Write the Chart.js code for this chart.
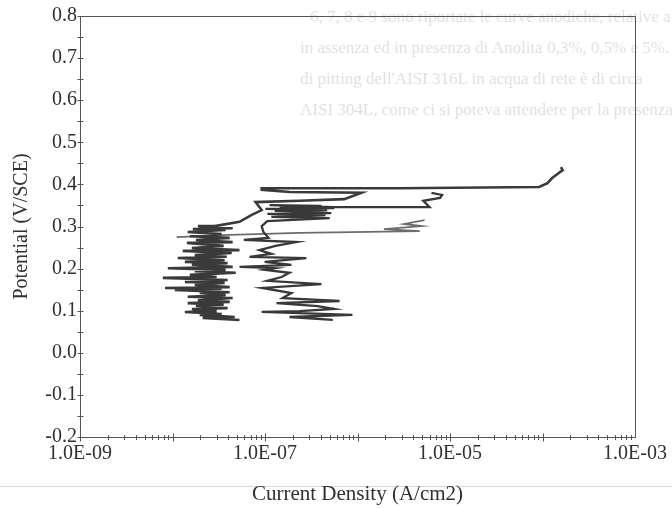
<!DOCTYPE html>
<html>
<head>
<meta charset="utf-8">
<title>Curve anodiche</title>
<script src="https://cdn.jsdelivr.net/npm/chart.js@4.4.1/dist/chart.umd.min.js"></script>
<style>
  html, body { margin: 0; padding: 0; background: #fff; }
  #pagina { position: relative; width: 672px; height: 508px; overflow: hidden; }
  .traspare { position: absolute; font-family: "Liberation Serif", serif; font-size: 17px;
              color: #000; opacity: .12; white-space: nowrap; }
  #riga { position: absolute; left: 0; top: 486px; width: 672px; height: 1px; background: #dadada; }
  canvas { position: absolute; left: 0; top: 0; }
</style>
</head>
<body>
<div id="pagina">
  <div class="traspare" style="left:310px;top:7px">6, 7, 8 e 9 sono riportate le curve anodiche, relative al</div>
  <div class="traspare" style="left:300px;top:38px">in assenza ed in presenza di Anolita 0,3%, 0,5% e 5%.</div>
  <div class="traspare" style="left:300px;top:69px">di pitting dell'AISI 316L in acqua di rete è di circa</div>
  <div class="traspare" style="left:300px;top:100px">AISI 304L, come ci si poteva attendere per la presenza</div>
  <div id="riga"></div>
  <canvas id="curve_anodiche" width="672" height="508"></canvas>
</div>
<script>
// first scan: low-current cluster, then the jump at the pitting potential
let currentA = [5.3e-8, 2.12e-8, 4.7e-8, 1.97e-8, 3.4e-8, 1.36e-8, 3.0e-8, 1.62e-8, 3.94e-8, 1.79e-8,
    3.57e-8, 1.46e-8, 4.15e-8, 1.88e-8, 4.47e-8, 1.46e-8, 3.75e-8, 1.97e-8, 4.15e-8, 1.06e-8,
    3.4e-8, 8.3e-9, 4.15e-8, 1.74e-8, 3.66e-8, 1.36e-8, 3.94e-8, 7.85e-9, 3.0e-8, 1.54e-8,
    4.82e-8, 1.74e-8, 3.75e-8, 8.9e-9, 4.47e-8, 1.62e-8, 3.94e-8, 1.36e-8, 3.66e-8, 1.14e-8,
    3.85e-8, 1.74e-8, 4.36e-8, 1.29e-8, 5.3e-8, 1.62e-8, 3.57e-8, 1.43e-8, 4.47e-8, 1.79e-8,
    4.15e-8, 1.54e-8, 3.4e-8, 1.46e-8, 3.75e-8, 1.66e-8, 4.47e-8, 1.88e-8, 2.86e-8, 5.3e-8,
    7.1e-8, 9.2e-8, 7.9e-8, 2.36e-7, 7.2e-7, 1.10e-6, 1.84e-7, 9.2e-8, 9.2e-8, 2.8e-6,
    9.2e-5, 1.13e-4, 1.27e-4, 1.5e-4, 1.65e-4, 1.58e-4];
let potentialA = [0.078, 0.083, 0.085, 0.090, 0.092, 0.097, 0.099, 0.104, 0.106, 0.111,
    0.114, 0.118, 0.121, 0.125, 0.130, 0.133, 0.137, 0.142, 0.144, 0.149,
    0.152, 0.154, 0.156, 0.161, 0.166, 0.168, 0.173, 0.178, 0.180, 0.185,
    0.190, 0.194, 0.197, 0.201, 0.204, 0.209, 0.213, 0.216, 0.220, 0.225,
    0.228, 0.232, 0.237, 0.242, 0.244, 0.249, 0.254, 0.261, 0.263, 0.268,
    0.273, 0.277, 0.282, 0.287, 0.292, 0.294, 0.296, 0.301, 0.301, 0.311,
    0.327, 0.339, 0.358, 0.361, 0.365, 0.380, 0.382, 0.387, 0.391, 0.391,
    0.394, 0.403, 0.415, 0.427, 0.434, 0.441];

// second scan, around 1E-07
let currentB = [5.4e-7, 1.84e-7, 8.8e-7, 9.2e-8, 2.36e-7, 5.6e-7, 3.7e-7, 1.33e-7, 6.4e-7, 1.55e-7,
    1.93e-7, 9.4e-8, 4.07e-7, 1.06e-7, 1.51e-7, 1.84e-7, 9.9e-8, 1.27e-7, 5.3e-8, 1.93e-7,
    9.9e-8, 2.8e-7, 6.8e-8, 1.17e-7, 8.7e-8, 1.30e-7, 2.18e-7, 5.9e-8, 1.09e-7, 9.6e-8,
    9.2e-8, 1.06e-7, 5.0e-7, 1.17e-7, 4.5e-7, 1.06e-7, 5.2e-7, 1.27e-7, 4.7e-7, 1.01e-7,
    5.6e-7, 1.44e-7, 4.07e-7, 1.12e-7, 5.4e-7, 6.0e-6, 5.14e-6, 7.8e-6, 8.2e-6, 6.3e-6];
let potentialB = [0.078, 0.085, 0.090, 0.097, 0.099, 0.104, 0.111, 0.118, 0.123, 0.130,
    0.142, 0.154, 0.163, 0.171, 0.180, 0.190, 0.197, 0.201, 0.204, 0.209,
    0.216, 0.225, 0.228, 0.235, 0.244, 0.254, 0.263, 0.268, 0.273, 0.287,
    0.301, 0.313, 0.320, 0.323, 0.327, 0.330, 0.332, 0.337, 0.339, 0.342,
    0.344, 0.346, 0.349, 0.351, 0.346, 0.346, 0.361, 0.368, 0.375, 0.380];

// return branch near 0.28 V
let currentC = [5.3e-6, 3.2e-6, 4.9e-6, 1.93e-6, 4.7e-6, 2.36e-7, 4.15e-8, 1.11e-8];
let potentialC = [0.315, 0.306, 0.301, 0.294, 0.289, 0.285, 0.280, 0.275];

let currentTicks = [1e-9, 1e-7, 1e-5, 1e-3];
let currentTickLabels = ["1.0E-09", "1.0E-07", "1.0E-05", "1.0E-03"];

function toPoints(xs, ys) {
    return xs.map((x, i) => ({x: x, y: ys[i]}));
}

let serif = "'Liberation Serif', 'Times New Roman', serif";
let ink = "#303030";

// box on top/right plus the small ticks crossing both axes
let frameAndTicks = {
    id: "frameAndTicks",
    afterDraw(chart) {
        let ctx = chart.ctx;
        let a = chart.chartArea;
        let x = chart.scales.x, y = chart.scales.y;
        ctx.save();
        ctx.strokeStyle = "#555";
        ctx.lineWidth = 1;
        ctx.beginPath();
        ctx.moveTo(Math.round(a.left) + 0.5, Math.round(a.top) + 0.5);
        ctx.lineTo(Math.round(a.right) + 0.5, Math.round(a.top) + 0.5);
        ctx.lineTo(Math.round(a.right) + 0.5, Math.round(a.bottom) + 0.5);
        let lx = Math.round(a.left) + 0.5;
        for (let v = -0.2; v <= 0.8001; v += 0.05) {
            let py = Math.round(y.getPixelForValue(v)) + 0.5;
            ctx.moveTo(lx - 3, py);
            ctx.lineTo(lx + 3, py);
        }
        let by = Math.round(a.bottom) + 0.5;
        for (let d = -9; d < -3; d++) {
            for (let m = 1; m <= 9; m++) {
                let px = Math.round(x.getPixelForValue(m * Math.pow(10, d))) + 0.5;
                let len = m == 1 ? 4 : 2.5;
                ctx.moveTo(px, by - len);
                ctx.lineTo(px, by + len);
            }
        }
        ctx.stroke();
        ctx.restore();
    }
};

new Chart("curve_anodiche", {
    type: "scatter",
    data: {
        datasets: [{
            data: toPoints(currentA, potentialA),
            borderColor: "#3a3a3a",
            borderWidth: 2.6
        }, {
            data: toPoints(currentB, potentialB),
            borderColor: "#383838",
            borderWidth: 2.3
        }, {
            data: toPoints(currentC, potentialC),
            borderColor: "#6c6c6c",
            borderWidth: 1.8
        }]
    },
    options: {
        responsive: false,
        animation: false,
        devicePixelRatio: 1,
        showLine: true,
        elements: {point: {radius: 0}, line: {tension: 0}},
        layout: {padding: {left: 0, top: 16, right: 36, bottom: 0}},
        plugins: {legend: {display: false}, tooltip: {enabled: false}},
        scales: {
            x: {
                type: "logarithmic",
                min: 1e-9,
                max: 1e-3,
                afterFit: s => { s.height = 71; },
                afterBuildTicks: s => { s.ticks = currentTicks.map(v => ({value: v})); },
                grid: {display: false, drawTicks: false},
                border: {display: true, color: "#555", width: 1},
                ticks: {
                    color: ink,
                    padding: 5,
                    maxRotation: 0,
                    autoSkip: false,
                    font: {family: serif, size: 20},
                    callback: (v, i) => currentTickLabels[i]
                },
                title: {
                    display: true,
                    text: "Current Density (A/cm2)",
                    color: ink,
                    font: {family: serif, size: 21},
                    padding: {top: 0, bottom: 1}
                }
            },
            y: {
                min: -0.2,
                max: 0.8,
                afterFit: s => { s.width = 80; },
                grid: {display: false, drawTicks: false},
                border: {display: true, color: "#555", width: 1},
                ticks: {
                    stepSize: 0.1,
                    color: ink,
                    padding: 3,
                    font: {family: serif, size: 20},
                    callback: v => (Math.abs(v) < 1e-9 ? 0 : v).toFixed(1)
                },
                title: {
                    display: true,
                    text: "Potential (V/SCE)",
                    color: ink,
                    font: {family: serif, size: 20},
                    padding: {top: 10, bottom: 0}
                }
            }
        }
    },
    plugins: [frameAndTicks]
});
</script>
</body>
</html>
